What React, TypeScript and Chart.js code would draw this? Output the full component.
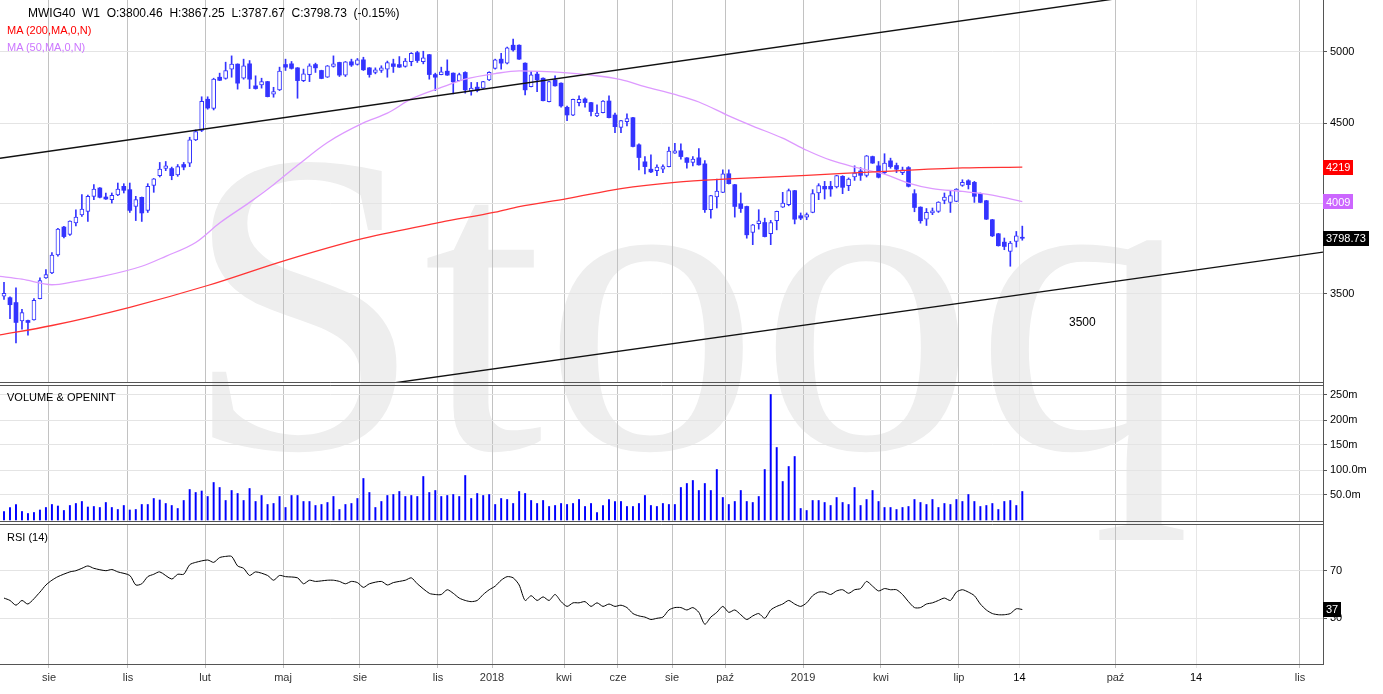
import React, { useEffect, useRef } from 'react';
import { Chart, registerables } from 'chart.js';

Chart.register(...registerables);

const FONT = '"Liberation Sans", Arial, Helvetica, sans-serif';

// ---------------- data (weekly candles, index 0..170) ----------------
const opens = [
  3488, 3480, 3455, 3363, 3365, 3368, 3475, 3583, 3610, 3706,
  3862, 3820, 3885, 3931, 3952, 4041, 4091, 4037, 4021, 4049,
  4101, 4081, 3981, 4035, 3958, 4107, 4166, 4210, 4210, 4170,
  4235, 4244, 4392, 4453, 4663, 4601, 4817, 4808, 4875, 4911,
  4810, 4913, 4756, 4763, 4786, 4698, 4728, 4908, 4913, 4884,
  4793, 4836, 4908, 4865, 4817, 4894, 4923, 4832, 4928, 4908,
  4942, 4884, 4851, 4865, 4875, 4913, 4908, 4894, 4928, 4995,
  4928, 4980, 4836, 4836, 4860, 4846, 4793, 4851, 4721, 4747,
  4740, 4798, 4880, 4947, 4918, 5050, 5050, 4918, 4751, 4839,
  4810, 4646, 4798, 4775, 4608, 4554, 4640, 4665, 4640, 4550,
  4572, 4651, 4556, 4474, 4512, 4538, 4360, 4252, 4206, 4197,
  4206, 4222, 4307, 4322, 4277, 4248, 4277, 4239, 3962, 4037,
  4065, 4178, 4111, 3997, 3981, 3831, 3881, 3888, 3824, 3899,
  3977, 3991, 4075, 3927, 3919, 3946, 4061, 4101, 4101, 4097,
  4162, 4105, 4158, 4195, 4168, 4285, 4227, 4185, 4258, 4229,
  4185, 4216, 4057, 3977, 3907, 3943, 3952, 4017, 4005, 4011,
  4107, 4135, 4125, 4057, 4015, 3904, 3824, 3777, 3726, 3781,
  3800.46,
];
const highs = [
  3560, 3484, 3531, 3421, 3367, 3475, 3583, 3627, 3719, 3855,
  3866, 3898, 3962, 4051, 4049, 4111, 4093, 4061, 4061, 4121,
  4117, 4121, 4041, 4037, 4117, 4149, 4248, 4254, 4219, 4235,
  4248, 4409, 4457, 4680, 4680, 4810, 4846, 4925, 4971, 4913,
  4947, 4937, 4827, 4810, 4788, 4746, 4889, 4947, 4930, 4886,
  4875, 4913, 4918, 4867, 4901, 4971, 4925, 4930, 4947, 4952,
  4961, 4886, 4884, 4899, 4933, 4947, 4966, 4952, 4995, 5005,
  5005, 4982, 4846, 4889, 4942, 4848, 4846, 4856, 4780, 4780,
  4788, 4856, 4947, 4990, 5035, 5095, 5052, 4920, 4858, 4858,
  4812, 4788, 4827, 4777, 4617, 4665, 4686, 4672, 4642, 4624,
  4653, 4686, 4568, 4520, 4563, 4540, 4366, 4285, 4296, 4233,
  4233, 4345, 4370, 4366, 4279, 4285, 4336, 4260, 4047, 4145,
  4202, 4202, 4113, 4061, 3983, 3877, 3962, 3913, 3900, 3954,
  4065, 4085, 4077, 3943, 3943, 4081, 4117, 4131, 4131, 4168,
  4166, 4152, 4227, 4216, 4292, 4288, 4254, 4303, 4275, 4244,
  4219, 4222, 4081, 3979, 3969, 3972, 4009, 4061, 4071, 4087,
  4141, 4141, 4131, 4061, 4017, 3906, 3826, 3800, 3781, 3837,
  3867.25,
];
const lows = [
  3471, 3374, 3255, 3322, 3293, 3366, 3473, 3580, 3605, 3700,
  3801, 3815, 3869, 3923, 3894, 4021, 4031, 4022, 4001, 4045,
  4061, 3946, 3899, 3894, 3946, 4065, 4158, 4197, 4141, 4162,
  4202, 4222, 4387, 4446, 4595, 4590, 4793, 4803, 4817, 4733,
  4803, 4737, 4733, 4740, 4679, 4677, 4723, 4865, 4875, 4670,
  4786, 4786, 4851, 4806, 4815, 4889, 4822, 4822, 4894, 4904,
  4865, 4817, 4841, 4851, 4817, 4851, 4887, 4889, 4899, 4923,
  4913, 4803, 4723, 4834, 4830, 4700, 4791, 4705, 4691, 4714,
  4738, 4793, 4875, 4875, 4913, 5005, 4945, 4693, 4749, 4716,
  4651, 4644, 4754, 4608, 4518, 4552, 4617, 4608, 4550, 4545,
  4570, 4536, 4439, 4439, 4483, 4347, 4202, 4176, 4185, 4166,
  4185, 4220, 4305, 4269, 4212, 4227, 4231, 3946, 3913, 3972,
  4063, 4115, 3919, 3946, 3799, 3763, 3850, 3806, 3763, 3846,
  3975, 3985, 3880, 3904, 3904, 3944, 4021, 4025, 4041, 4091,
  4057, 4075, 4137, 4137, 4158, 4242, 4152, 4178, 4212, 4185,
  4172, 4097, 3950, 3884, 3871, 3933, 3946, 3997, 3946, 4009,
  4101, 4085, 4005, 4003, 3905, 3808, 3755, 3735, 3645, 3750,
  3787.67,
];
const closes = [
  3502, 3444, 3355, 3404, 3355, 3466, 3569, 3601, 3706, 3850,
  3808, 3896, 3919, 3966, 4041, 4085, 4035, 4025, 4047, 4085,
  4077, 3958, 4021, 3943, 4101, 4147, 4206, 4227, 4166, 4222,
  4219, 4392, 4446, 4649, 4603, 4803, 4795, 4865, 4911, 4775,
  4899, 4803, 4737, 4786, 4681, 4716, 4860, 4889, 4880, 4793,
  4841, 4899, 4884, 4808, 4899, 4913, 4832, 4928, 4904, 4942,
  4870, 4836, 4870, 4884, 4923, 4894, 4889, 4933, 4990, 4937,
  4956, 4836, 4817, 4856, 4832, 4784, 4836, 4728, 4740, 4723,
  4786, 4851, 4942, 4918, 5030, 5015, 4947, 4728, 4834, 4798,
  4653, 4786, 4756, 4617, 4556, 4663, 4663, 4640, 4579, 4568,
  4651, 4538, 4478, 4518, 4532, 4349, 4279, 4222, 4189, 4219,
  4222, 4320, 4322, 4285, 4248, 4269, 4233, 3962, 4045, 4073,
  4178, 4117, 3981, 3969, 3818, 3875, 3898, 3808, 3888, 3952,
  4001, 4075, 3907, 3913, 3933, 4057, 4105, 4085, 4085, 4166,
  4095, 4145, 4182, 4168, 4290, 4244, 4156, 4244, 4222, 4206,
  4202, 4101, 3975, 3898, 3946, 3956, 4007, 4037, 4045, 4085,
  4125, 4111, 4041, 4005, 3907, 3812, 3757, 3753, 3772, 3812,
  3798.73,
];
// weekly volume, millions
const volumesM = [
  16.7, 25, 31, 17, 13, 15, 20, 25, 31, 28,
  19, 29, 33, 37, 26, 27, 25, 35, 25, 21,
  29, 20, 21, 31, 31, 43, 40, 33, 29, 23,
  39, 61, 55, 58, 47, 75, 65, 39, 59, 53,
  39, 63, 37, 49, 31, 33, 47, 25, 49, 49,
  37, 37, 29, 31, 35, 47, 21, 31, 33, 43,
  83, 55, 25, 37, 49, 51, 57, 47, 49, 47,
  87, 55, 59, 47, 49, 51, 47, 89, 43, 53,
  49, 51, 31, 43, 41, 33, 57, 53, 39, 33,
  39, 27, 29, 33, 31, 33, 41, 27, 33, 15,
  29, 41, 37, 37, 27, 27, 33, 49, 29, 27,
  33, 31, 31, 65, 73, 79, 59, 73, 59, 101,
  45, 31, 37, 59, 37, 35, 47, 101, 251, 145,
  77, 107, 127, 23, 19, 39, 39, 35, 29, 45,
  35, 31, 65, 29, 41, 59, 37, 25, 25, 21,
  25, 27, 41, 35, 31, 41, 25, 33, 31, 41,
  37, 51, 37, 27, 29, 33, 21, 37, 39, 29,
  57,
];
// moving averages (week index -> value)
const ma200Idx = [-1, 8, 21, 34, 47, 60, 73, 82, 86, 94, 103, 112, 121, 134, 147, 160, 170];
const ma200Vals = [3292, 3340, 3431, 3543, 3677, 3798, 3890, 3948, 3980, 4027, 4087, 4125, 4146, 4168, 4193, 4214, 4219];
const ma50Idx = [-1, 3, 8, 12, 16, 23, 27, 32, 36, 41, 45, 49, 54, 60, 64, 68, 73, 77, 82, 86, 94, 98, 103, 107, 112, 116, 121, 125, 130, 134, 138, 142, 147, 151, 155, 160, 165, 170];
const ma50Vals = [3592, 3576, 3547, 3565, 3588, 3645, 3699, 3775, 3885, 4005, 4111, 4230, 4375, 4503, 4568, 4665, 4745, 4803, 4843, 4862, 4848, 4832, 4800, 4751, 4696, 4644, 4550, 4482, 4403, 4325, 4262, 4219, 4175, 4121, 4087, 4070, 4048, 4009];
// RSI(14)
const rsiIdx = [
  0, 1, 2, 3, 4, 6, 7, 8, 9, 11, 12, 13, 14, 15, 17, 18, 19, 21, 22, 23, 24, 25, 26, 28, 29, 30,
  31, 32, 34, 35, 36, 37, 38, 39, 40, 41, 42, 44, 45, 46, 47, 49, 50, 51, 52, 54, 55, 56, 57, 58,
  59, 60, 61, 63, 64, 65, 67, 68, 69, 71, 72, 73, 74, 75, 76, 77, 78, 79, 80, 81, 82, 83, 84, 85,
  86, 87, 88, 89, 90, 91, 92, 93, 94, 95, 96, 97, 98, 99, 100, 101, 102, 103, 104, 105, 106, 107,
  108, 109, 110, 111, 112, 113, 114, 115, 116, 117, 118, 119, 120, 121, 122, 123, 124, 125, 126,
  127, 128, 129, 130, 131, 132, 133, 134, 135, 136, 137, 138, 139, 140, 141, 142, 143, 144, 145,
  146, 147, 148, 149, 150, 151, 152, 153, 154, 155, 156, 157, 158, 159, 160, 161, 162, 163, 164,
  165, 166, 167, 168, 169, 170,
];
const rsiVals = [
  47, 45, 41, 45, 42, 52, 58, 62, 65, 69, 70, 72, 74, 72, 70, 71, 69, 66, 58, 59, 65, 67, 69, 63, 67, 67,
  75, 77, 79, 77, 81, 82, 82, 74, 72, 66, 69, 66, 62, 66, 65, 64, 59, 62, 61, 62, 62, 61, 59, 61,
  60, 56, 59, 61, 58, 60, 62, 64, 59, 51, 50, 50, 54, 51, 47, 45, 44, 45, 50, 54, 57, 62, 65, 64,
  58, 45, 49, 45, 48, 45, 50, 44, 40, 43, 43, 44, 40, 43, 40, 42, 40, 41, 39, 34, 32, 31,
  29, 30, 31, 37, 39, 39, 37, 39, 35, 25, 31, 35, 40, 35, 37, 33, 29, 32, 34,
  30, 37, 40, 42, 45, 42, 40, 43, 49, 52, 52, 50, 53, 54, 51, 54, 55, 61, 57,
  53, 55, 54, 54, 50, 44, 39, 39, 42, 43, 45, 47, 45, 52, 54, 52, 49, 42, 37,
  34, 33, 33, 34, 38, 37.4,
];
// drawn trend lines (two anchor points each)
const upperTrendIdx = [-0.67, 190];
const upperTrendVals = [4274, 5438];
const lowerTrendIdx = [62.77, 220.2];
const lowerTrendVals = [3060, 3722];
// axis ticks
const xTickPos = [7.51, 20.7, 33.56, 46.58, 59.43, 72.45, 81.47, 93.49, 102.5, 111.52, 120.37, 133.39, 146.41, 159.43, 169.53, 185.56, 199.0, 216.36];
const xTickLabels = ['sie', 'lis', 'lut', 'maj', 'sie', 'lis', '2018', 'kwi', 'cze', 'sie', 'paź', '2019', 'kwi', 'lip', '14', 'paź', '14', 'lis'];
const priceTicks = [3500, 4000, 4500, 5000];
const volumeTicks = [50, 100, 150, 200, 250];
const rsiTicks = [30, 70];

// ---------------- styling ----------------
const X_MIN = -0.668;
const X_MAX = 220.2;
const BLUE = '#3333ff';
const AXIS = '#555555';
const HGRID = '#e4e4e4';

const weekIdx = opens.map((_, i) => i);
const pts = (xs: number[], ys: number[]) => xs.map((x, k) => ({ x, y: ys[k] }));

const xGridColor = (ctx: any) => (xTickLabels[ctx.index] === '14' ? '#e6e6e6' : '#c2c2c2');

function xAxis(showLabels: boolean) {
  return {
    type: 'linear',
    min: X_MIN,
    max: X_MAX,
    offset: false,
    afterBuildTicks: (s: any) => {
      s.ticks = xTickPos.map((v) => ({ value: v }));
    },
    afterFit: (s: any) => {
      s.height = showLabels ? 30 : 0;
      s.paddingLeft = 0;
      s.paddingRight = 0;
    },
    grid: { color: xGridColor, lineWidth: 1, offset: false, drawTicks: showLabels, tickLength: 4 },
    border: { display: showLabels, color: AXIS },
    ticks: {
      display: showLabels,
      autoSkip: false,
      maxRotation: 0,
      padding: 3,
      font: { family: FONT, size: 11 },
      color: (ctx: any) => (xTickLabels[ctx.index] === '14' ? '#000' : '#333'),
      callback: (_v: any, i: number) => xTickLabels[i],
    },
  };
}

function yAxis(type: string, min: number, max: number, ticks: number[], fmt: (v: number) => string) {
  return {
    type,
    position: 'right',
    min,
    max,
    afterBuildTicks: (s: any) => {
      s.ticks = ticks.map((v) => ({ value: v }));
    },
    afterFit: (s: any) => {
      s.width = 60;
      s.paddingTop = 0;
      s.paddingBottom = 0;
    },
    grid: { color: HGRID, lineWidth: 1, tickLength: 4, tickColor: AXIS },
    border: { display: false },
    ticks: {
      autoSkip: false,
      padding: 3,
      font: { family: FONT, size: 11 },
      color: '#000',
      callback: (v: any) => fmt(Number(v)),
    },
  };
}

const framePlugin = {
  id: 'frame',
  afterDraw(chart: any, _a: any, opts: any) {
    const { ctx, chartArea } = chart;
    ctx.save();
    ctx.strokeStyle = AXIS;
    ctx.lineWidth = 1;
    ctx.beginPath();
    const xr = Math.round(chartArea.right) + 0.5;
    ctx.moveTo(xr, 0);
    ctx.lineTo(xr, opts.vEnd != null ? opts.vEnd : chart.height);
    for (const y of opts.hLines || []) {
      ctx.moveTo(0, y);
      ctx.lineTo(xr, y);
    }
    ctx.stroke();
    ctx.restore();
  },
};

const boxPlugin = {
  id: 'boxes',
  afterDraw(chart: any, _a: any, opts: any) {
    const { ctx, chartArea } = chart;
    const ys = chart.scales.y;
    ctx.save();
    ctx.font = `11px ${FONT}`;
    ctx.textBaseline = 'middle';
    for (const b of opts.items || []) {
      const y = ys.getPixelForValue(b.value);
      const w = Math.round(ctx.measureText(b.text).width + 6);
      ctx.fillStyle = b.bg;
      ctx.fillRect(chartArea.right, Math.round(y - 7.5), w, 15);
      ctx.fillStyle = '#fff';
      ctx.fillText(b.text, chartArea.right + 3, Math.round(y) + 0.5);
    }
    ctx.restore();
  },
};

export default function App() {
  const mainRef = useRef<HTMLCanvasElement>(null);
  const volRef = useRef<HTMLCanvasElement>(null);
  const rsiRef = useRef<HTMLCanvasElement>(null);

  useEffect(() => {
    document.body.style.margin = '0';
    document.body.style.overflow = 'hidden';
    const up = (i: number) => closes[i] >= opens[i];

    const main = new Chart(mainRef.current as HTMLCanvasElement, {
      type: 'bar',
      data: {
        datasets: [
          {
            type: 'line',
            data: pts(upperTrendIdx, upperTrendVals),
            borderColor: '#111',
            borderWidth: 1.4,
            pointRadius: 0,
            order: 1,
          },
          {
            type: 'line',
            data: pts(lowerTrendIdx, lowerTrendVals),
            borderColor: '#111',
            borderWidth: 1.4,
            pointRadius: 0,
            order: 1,
          },
          {
            type: 'line',
            data: pts(ma200Idx, ma200Vals),
            borderColor: '#ff3333',
            borderWidth: 1.3,
            pointRadius: 0,
            cubicInterpolationMode: 'monotone',
            order: 2,
          },
          {
            type: 'line',
            data: pts(ma50Idx, ma50Vals),
            borderColor: '#dd99ff',
            borderWidth: 1.3,
            pointRadius: 0,
            cubicInterpolationMode: 'monotone',
            order: 2,
          },
          {
            type: 'bar',
            data: weekIdx.map((i) => ({ x: i, y: [opens[i], closes[i]] })),
            backgroundColor: weekIdx.map((i) => (up(i) ? '#ffffff' : BLUE)),
            borderColor: BLUE,
            borderWidth: weekIdx.map((i) => (up(i) ? 1 : 0)),
            borderSkipped: false,
            barThickness: 4,
            minBarLength: 1,
            grouped: false,
            order: 3,
          },
          {
            type: 'bar',
            data: weekIdx.map((i) => ({ x: i, y: [lows[i], highs[i]] })),
            backgroundColor: BLUE,
            borderWidth: 0,
            barThickness: 1,
            grouped: false,
            order: 4,
          },
        ],
      } as any,
      options: {
        animation: false,
        responsive: false,
        devicePixelRatio: 1,
        layout: { padding: { top: 0, left: 0, right: 0, bottom: 2 } },
        plugins: {
          legend: { display: false },
          tooltip: { enabled: false },
          frame: { hLines: [382.5] },
          boxes: {
            items: [
              { value: ma200Vals[ma200Vals.length - 1], text: String(ma200Vals[ma200Vals.length - 1]), bg: '#ff0000' },
              { value: ma50Vals[ma50Vals.length - 1], text: String(ma50Vals[ma50Vals.length - 1]), bg: '#cc66ff' },
              { value: closes[closes.length - 1], text: closes[closes.length - 1].toFixed(2), bg: '#000000' },
            ],
          },
        },
        scales: {
          x: xAxis(false),
          y: yAxis('logarithmic', 3073, 5398, priceTicks, (v) => (v === 4000 ? '' : String(v))),
        },
      } as any,
      plugins: [framePlugin, boxPlugin],
    });

    const vol = new Chart(volRef.current as HTMLCanvasElement, {
      type: 'bar',
      data: {
        datasets: [
          {
            data: weekIdx.map((i) => ({ x: i, y: volumesM[i] })),
            backgroundColor: '#0000ff',
            borderWidth: 0,
            barThickness: 1.3,
          },
        ],
      } as any,
      options: {
        animation: false,
        responsive: false,
        devicePixelRatio: 1,
        layout: { padding: { top: 2, left: 0, right: 0, bottom: 2 } },
        plugins: {
          legend: { display: false },
          tooltip: { enabled: false },
          frame: { hLines: [1.5, 137.5] },
        },
        scales: {
          x: xAxis(false),
          y: yAxis('linear', -2, 268, volumeTicks, (v) => (v < 150 ? v.toFixed(1) + 'm' : v + 'm')),
        },
      } as any,
      plugins: [framePlugin],
    });

    const lastRsi = rsiVals[rsiVals.length - 1];
    const rsi = new Chart(rsiRef.current as HTMLCanvasElement, {
      type: 'line',
      data: {
        datasets: [
          {
            data: pts(rsiIdx, rsiVals),
            borderColor: '#000',
            borderWidth: 1,
            pointRadius: 0,
            tension: 0.25,
          },
        ],
      } as any,
      options: {
        animation: false,
        responsive: false,
        devicePixelRatio: 1,
        layout: { padding: { top: 2, left: 0, right: 0, bottom: 0 } },
        plugins: {
          legend: { display: false },
          tooltip: { enabled: false },
          frame: { hLines: [1.5], vEnd: 141 },
          boxes: { items: [{ value: lastRsi, text: String(Math.round(lastRsi)), bg: '#000000' }] },
        },
        scales: {
          x: xAxis(true),
          y: yAxis('linear', -8.4, 108.4, rsiTicks, (v) => String(v)),
        },
      } as any,
      plugins: [framePlugin, boxPlugin],
    });

    return () => {
      main.destroy();
      vol.destroy();
      rsi.destroy();
    };
  }, []);

  const txt = (extra: React.CSSProperties): React.CSSProperties => ({
    position: 'absolute',
    fontFamily: FONT,
    whiteSpace: 'pre',
    zIndex: 3,
    ...extra,
  });

  return (
    <div style={{ position: 'absolute', left: 0, top: 0, width: 1383, height: 694, overflow: 'hidden', background: '#fff' }}>
      <div
        style={{
          position: 'absolute',
          left: 183,
          top: 86,
          fontFamily: '"Liberation Serif", "DejaVu Serif", serif',
          fontSize: 432,
          lineHeight: '432px',
          color: '#eeeeee',
          whiteSpace: 'pre',
          zIndex: 0,
        }}
      >
        Stooq
      </div>
      <canvas ref={mainRef} width={1383} height={384} style={{ position: 'absolute', left: 0, top: 0, zIndex: 1 }} />
      <canvas ref={volRef} width={1383} height={139} style={{ position: 'absolute', left: 0, top: 384, zIndex: 1 }} />
      <canvas ref={rsiRef} width={1383} height={171} style={{ position: 'absolute', left: 0, top: 523, zIndex: 1 }} />
      <div style={txt({ left: 28, top: 6, fontSize: 12, lineHeight: '14px', color: '#000' })}>
        {'MWIG40  W1  O:3800.46  H:3867.25  L:3787.67  C:3798.73  (-0.15%)'}
      </div>
      <div style={txt({ left: 7, top: 24, fontSize: 11, lineHeight: '13px', color: '#ff0000' })}>MA (200,MA,0,N)</div>
      <div style={txt({ left: 7, top: 41, fontSize: 11, lineHeight: '13px', color: '#cc77ff' })}>MA (50,MA,0,N)</div>
      <div style={txt({ left: 1069, top: 315, fontSize: 12, lineHeight: '14px', color: '#000' })}>3500</div>
      <div style={txt({ left: 7, top: 391, fontSize: 11, lineHeight: '13px', color: '#000' })}>VOLUME &amp; OPENINT</div>
      <div style={txt({ left: 7, top: 531, fontSize: 11, lineHeight: '13px', color: '#000' })}>RSI (14)</div>
    </div>
  );
}
